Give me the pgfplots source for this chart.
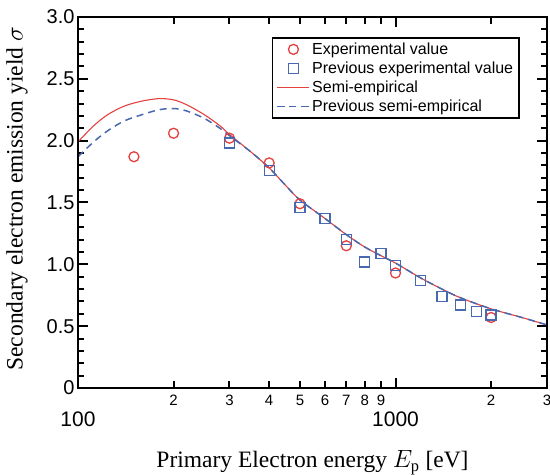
\documentclass[border=0pt]{standalone}
\usepackage{fontspec}
\setmainfont{Liberation Serif}
\setsansfont{Liberation Sans}
\usepackage{pgfplots}
\pgfplotsset{compat=1.18}
\definecolor{expred}{RGB}{228,64,64}
\definecolor{expblue}{RGB}{72,104,176}

\begin{document}
\begin{tikzpicture}
\begin{axis}[
    scale only axis,
    width=469pt, height=371pt,
    xmode=log,
    xmin=100, xmax=3000,
    ymin=0, ymax=3,
    axis line style={draw=black, line width=2pt},
    every tick/.append style={draw=black, line width=2pt},
    tick align=inside,
    major tick length=10pt,
    minor tick length=6pt,
    xtick={100,1000},
    xticklabels={100,1000},
    xticklabel style={font=\fontsize{21}{21}\sffamily, inner sep=0pt, yshift=-24pt},
    extra x ticks={200,300,400,500,600,700,800,900,2000,3000},
    extra x tick labels={2,3,4,5,6,7,8,9,2,3},
    extra x tick style={major tick length=7pt,
        xticklabel style={font=\fontsize{15}{15}\sffamily, yshift=17pt}},
    ytick={0,0.5,1,1.5,2,2.5,3},
    yticklabels={0,0.5,1.0,1.5,2.0,2.5,3.0},
    minor ytick={0.1,0.2,...,2.95},
    yticklabel style={font=\fontsize{20}{20}\sffamily},
    xlabel={Primary Electron energy $E_{\mathrm{p}}$ [eV]},
    xlabel style={font=\fontsize{23.5}{28}\selectfont,
        at={(axis description cs:0.5,0)}, anchor=base, yshift=-80pt},
    ylabel={Secondary electron emission yield $\sigma$},
    ylabel style={font=\fontsize{23.5}{28}\selectfont,
        at={(axis description cs:-0.13,0.51)}, anchor=center},
    legend style={at={(0.9424,0.946)}, anchor=north east,
        draw=black, line width=1.6pt,
        font=\fontsize{16}{16}\sffamily,
        cells={anchor=west},
        inner xsep=4pt, inner ysep=3pt, row sep=2pt},
    legend image code/.code={\draw[mark repeat=2,mark phase=2,#1]
        plot coordinates {(0pt,0pt)(16pt,0pt)(32pt,0pt)};},
]
\addplot[only marks, mark=o, mark size=5pt, expred, line width=1.3pt] coordinates {
    (150,1.87) (200,2.06) (300,2.02) (400,1.82) (500,1.49)
    (700,1.15) (1000,0.93) (2000,0.57)
};
\addlegendentry{Experimental value}

\addplot[only marks, mark=square, mark size=5pt, expblue, line width=1.3pt] coordinates {
    (300,1.98) (400,1.76) (500,1.46) (600,1.37) (700,1.20) (800,1.02)
    (900,1.09) (1000,0.99) (1200,0.87) (1400,0.74) (1600,0.67)
    (1800,0.62) (2000,0.59)
};
\addlegendentry{Previous experimental value}

\addplot[expred, line width=1.1pt, smooth] coordinates {
    (100,1.99) (112,2.12) (124,2.21) (140,2.28) (159,2.32) (180,2.34)
    (200,2.33) (220,2.29) (250,2.21) (280,2.12) (300,2.05) (350,1.91)
    (400,1.78) (450,1.64) (500,1.52) (600,1.37) (700,1.24) (800,1.14)
    (900,1.07) (1000,1.01) (1200,0.89) (1400,0.80) (1600,0.73)
    (2000,0.64) (2500,0.57) (3000,0.51)
};
\addlegendentry{Semi-empirical}

\addplot[expblue, line width=1.5pt, dash pattern=on 7pt off 5pt, smooth] coordinates {
    (100,1.87) (112,1.99) (124,2.08) (140,2.16) (159,2.21) (180,2.25)
    (200,2.26) (220,2.24) (250,2.18) (280,2.10) (300,2.04) (350,1.91)
    (400,1.78) (450,1.64) (500,1.52) (600,1.37) (700,1.24) (800,1.14)
    (900,1.07) (1000,1.01) (1200,0.89) (1400,0.80) (1600,0.73)
    (2000,0.64) (2500,0.57) (3000,0.51)
};
\addlegendentry{Previous semi-empirical}
\end{axis}
\draw[black, line width=2pt] (current axis.south west) rectangle (current axis.north east);
\pgfresetboundingbox
\path[use as bounding box] ([shift={(-78pt,-87pt)}]current axis.south west)
    rectangle ([shift={(3pt,17pt)}]current axis.north east);
\end{tikzpicture}
\end{document}
